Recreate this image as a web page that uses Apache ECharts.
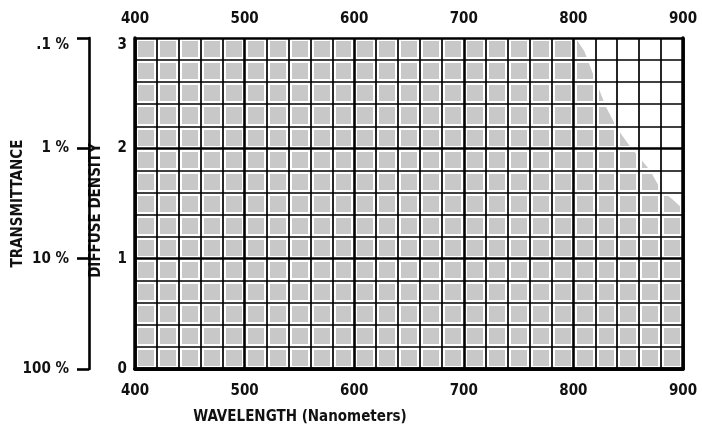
<!DOCTYPE html>
<html>
<head>
<meta charset="utf-8">
<script src="https://cdn.jsdelivr.net/npm/echarts@6/dist/echarts.min.js"></script>
<style>
html,body{margin:0;padding:0;background:#fff;}
#chart{width:702px;height:425px;}
</style>
</head>
<body>
<div id="chart"></div>
<script>
// Data
const wavelengths = [400, 500, 600, 700, 800, 802, 810, 820, 830, 840, 850, 860, 870, 880, 890, 900];
const density =     [3,   3,   3,   3,   3,   3.0, 2.88, 2.62, 2.37, 2.18, 2.04, 1.92, 1.80, 1.62, 1.54, 1.45];
const transmittanceLabels = ['100 %', '10 %', '1 %', '.1 %']; // at density 0,1,2,3
const xTitle = 'WAVELENGTH (Nanometers)';
const yTitle = 'DIFFUSE DENSITY';
const tTitle = 'TRANSMITTANCE';

const FONT = '"Liberation Sans Narrow", "DejaVu Sans Condensed", sans-serif';
const txt = {fontFamily: FONT, fontWeight: 'bold', fontSize: 15, color: '#111'};

const chart = echarts.init(document.getElementById('chart'), null, {renderer: 'canvas'});

const hiddenParts = {axisLine: {show: false}, axisTick: {show: false}, axisLabel: {show: false}};

const option = {
  animation: false,
  backgroundColor: '#fff',
  grid: {left: 135, right: 19, top: 38, bottom: 56, containLabel: false, outerBoundsMode: 'none'},
  xAxis: [
    { // main bottom axis
      type: 'value', min: 400, max: 900, interval: 100, position: 'bottom', z: 4,
      name: xTitle, nameLocation: 'middle', nameGap: 41, nameMoveOverlap: false,
      nameTextStyle: Object.assign({}, txt, {padding: [0, 218, 0, 0]}),
      axisLine: {show: true, lineStyle: {color: '#000', width: 3.5}},
      axisTick: {show: false},
      axisLabel: Object.assign({}, txt, {margin: 15}),
      splitLine: {show: true, lineStyle: {color: '#000', width: 2.6}},
      minorTick: {show: false, splitNumber: 5},
      minorSplitLine: {show: true, lineStyle: {color: '#000', width: 1.7}}
    },
    { // top axis
      type: 'value', min: 400, max: 900, interval: 100, position: 'top', z: 4,
      axisLine: {show: true, lineStyle: {color: '#000', width: 3.5}},
      axisTick: {show: false},
      axisLabel: Object.assign({}, txt, {margin: 11}),
      splitLine: {show: false}
    },
    Object.assign({ // white gaps around cells
      type: 'value', min: 400, max: 900, interval: 20, position: 'bottom', z: 2,
      splitLine: {show: true, lineStyle: {color: '#fff', width: 6}}
    }, hiddenParts)
  ],
  yAxis: [
    { // diffuse density
      type: 'value', min: 0, max: 3, interval: 1, position: 'left', z: 4,
      name: yTitle, nameLocation: 'middle', nameGap: 31, nameRotate: 90, nameMoveOverlap: false,
      nameTextStyle: Object.assign({}, txt, {padding: [0, 14, 0, 0]}),
      axisLine: {show: true, lineStyle: {color: '#000', width: 3.5}},
      axisTick: {show: false},
      axisLabel: Object.assign({}, txt, {margin: 8, verticalAlignMaxLabel: 'top'}),
      splitLine: {show: true, lineStyle: {color: '#000', width: 2.6}},
      minorTick: {show: false, splitNumber: 5},
      minorSplitLine: {show: true, lineStyle: {color: '#000', width: 1.7}}
    },
    { // right border
      type: 'value', min: 0, max: 3, interval: 1, position: 'right', z: 4,
      axisLine: {show: true, lineStyle: {color: '#000', width: 3.5}},
      axisTick: {show: false}, axisLabel: {show: false}, splitLine: {show: false}
    },
    Object.assign({ // white gaps around cells
      type: 'value', min: 0, max: 3, interval: 0.2, position: 'left', z: 2,
      splitLine: {show: true, lineStyle: {color: '#fff', width: 6}}
    }, hiddenParts),
    { // transmittance bracket
      type: 'value', min: 0, max: 3, interval: 1, position: 'left', offset: 46, z: 4,
      name: tTitle, nameLocation: 'middle', nameGap: 63, nameRotate: 90, nameMoveOverlap: false,
      nameTextStyle: txt,
      axisLine: {show: true, lineStyle: {color: '#000', width: 2.6}},
      axisTick: {show: true, inside: false, length: 12, lineStyle: {color: '#000', width: 2.6}},
      axisLabel: Object.assign({}, txt, {margin: 20, verticalAlignMaxLabel: 'top', formatter: function (v) { return transmittanceLabels[Math.round(v)]; }}),
      splitLine: {show: false}
    }
  ],
  series: [{
    type: 'line',
    xAxisIndex: 0, yAxisIndex: 0,
    z: 1,
    data: wavelengths.map((w, i) => [w, density[i]]),
    symbol: 'none',
    lineStyle: {width: 0, color: '#c8c8c8'},
    areaStyle: {color: '#c8c8c8', opacity: 1},
    silent: true
  }]
};
chart.setOption(option);
</script>
</body>
</html>
